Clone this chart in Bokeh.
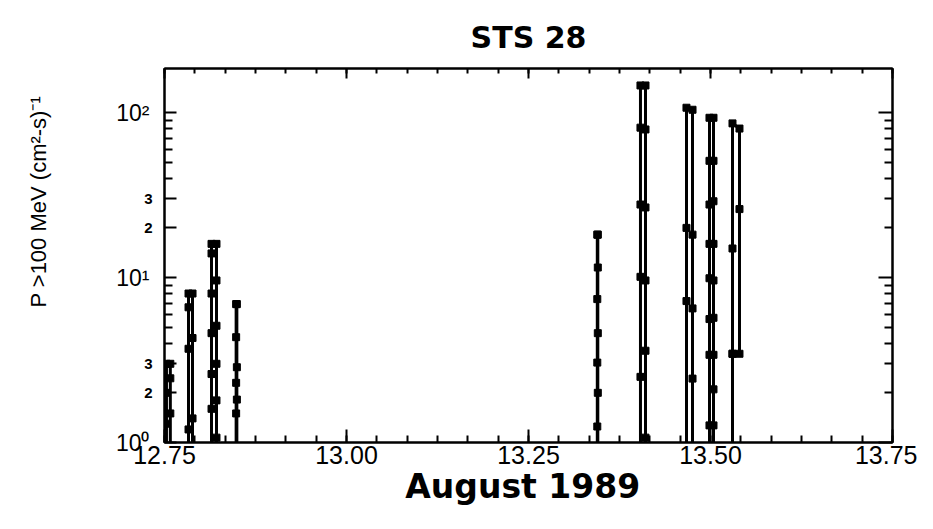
import numpy as np
from bokeh.plotting import figure
from bokeh.models import (Range1d, FixedTicker, LinearAxis, LogAxis,
                          PrintfTickFormatter, CustomJSTickFormatter)
from bokeh.embed import file_html
from bokeh.resources import INLINE

# ---- data: each SAA pass is a rise along one track then a fall along the next
pass1_day = [12.7527, 12.7527, 12.7527, 12.7527, 12.7580, 12.7580, 12.7580, 12.7580]
pass1_flux = [0.8, 1.3, 2.0, 3.0, 3.0, 2.45, 1.5, 0.8]

pass2_day = [12.7830, 12.7830, 12.7830, 12.7830, 12.7830, 12.7885, 12.7885, 12.7885, 12.7885]
pass2_flux = [0.8, 1.2, 3.7, 6.6, 8.0, 8.0, 4.3, 1.4, 0.8]

pass3_day = [12.8146, 12.8146, 12.8146, 12.8146, 12.8146, 12.8146, 12.8146,
             12.8214, 12.8214, 12.8214, 12.8214, 12.8214, 12.8214, 12.8214]
pass3_flux = [0.8, 1.6, 2.6, 4.6, 8.0, 14.0, 16.0, 16.0, 9.6, 5.1, 3.0, 1.8, 1.07, 0.8]

pass4_day = [12.8484, 12.8484, 12.8484, 12.8484, 12.8484, 12.8494, 12.8494, 12.8494, 12.8494]
pass4_flux = [0.8, 1.5, 2.3, 4.35, 6.9, 6.9, 2.86, 1.82, 0.8]

pass5_day = [13.3445, 13.3445, 13.3445, 13.3445, 13.3445, 13.3452, 13.3452, 13.3452, 13.3452, 13.3452]
pass5_flux = [0.8, 1.25, 3.05, 7.4, 18.2, 18.2, 11.5, 4.6, 2.0, 0.8]

pass6_day = [13.4038, 13.4038, 13.4038, 13.4038, 13.4038, 13.4038,
             13.4107, 13.4107, 13.4107, 13.4107, 13.4107, 13.4107, 13.4107]
pass6_flux = [0.8, 2.5, 10.1, 27.7, 81.0, 146.0, 146.0, 79.0, 26.6, 9.6, 3.6, 1.07, 0.8]

pass7_day = [13.4670, 13.4670, 13.4670, 13.4670, 13.4753, 13.4753, 13.4753, 13.4753, 13.4753]
pass7_flux = [0.8, 7.2, 20.0, 107.0, 104.0, 18.2, 6.5, 2.44, 0.8]

pass8_day = [13.4986, 13.4986, 13.4986, 13.4986, 13.4986, 13.4986, 13.4986, 13.4986, 13.4986,
             13.5041, 13.5041, 13.5041, 13.5041, 13.5041, 13.5041, 13.5041, 13.5041, 13.5041, 13.5041]
pass8_flux = [0.8, 1.27, 3.4, 5.6, 9.9, 16.0, 27.7, 51.0, 93.0,
              93.0, 51.0, 29.0, 16.0, 9.6, 5.7, 3.4, 2.1, 1.27, 0.8]

pass9_day = [13.5302, 13.5302, 13.5302, 13.5398, 13.5398, 13.5398, 13.5302, 13.5302]
pass9_flux = [3.45, 15.0, 86.0, 80.0, 26.0, 3.45, 3.45, 0.8]

x_major = [12.75, 13.00, 13.25, 13.50, 13.75]
y_major = [1, 10, 100]
y_major_labels = {1: "10\u2070", 10: "10\u00b9", 100: "10\u00b2"}
y_tick_marks = [1, 2, 3, 10, 20, 30, 100]
y_tick_labels = {1: "", 2: "2", 3: "3", 10: "", 20: "2", 30: "3", 100: ""}
y_minor = [4, 5, 6, 7, 8, 9, 40, 50, 60, 70, 80, 90, 200]
y_minor_right = [2, 3, 4, 5, 6, 7, 8, 9, 20, 30, 40, 50, 60, 70, 80, 90, 200]

title_text = "STS 28"
x_title = "August  1989"
y_title = "P >100 MeV  (cm\u00b2-s)\u207b\u00b9"
# em-space lead-in lifts the centred y title to where the original sits
y_title_lead = "\u2003\u2003\u2003\u2003\u2003\u2006"

days = [pass1_day, pass2_day, pass3_day, pass4_day, pass5_day,
        pass6_day, pass7_day, pass8_day, pass9_day]
fluxes = [pass1_flux, pass2_flux, pass3_flux, pass4_flux, pass5_flux,
          pass6_flux, pass7_flux, pass8_flux, pass9_flux]

# ---- figure
p = figure(width=917, height=513,
           x_range=Range1d(12.75, 13.75), y_range=Range1d(1, 185),
           y_axis_type="log", output_backend="svg", toolbar_location=None,
           min_border_left=164, min_border_right=25,
           min_border_top=68, min_border_bottom=71,
           background_fill_color="white", border_fill_color="white")
p.grid.visible = False
p.outline_line_color = "black"
p.outline_line_width = 2

p.title.text = title_text
p.title.align = "center"
p.title.text_font = "DejaVu Sans"
p.title.text_font_style = "bold"
p.title.text_font_size = "30px"
p.title.text_color = "black"
p.title.standoff = 27

x_minor = list(np.arange(12.75, 13.75 + 1e-9, 1.0 / 24.0))
x_ticker = FixedTicker(ticks=x_major, minor_ticks=x_minor)


def style_axis(ax, major_len, minor_len):
    ax.axis_line_color = "black"
    ax.axis_line_width = 2
    ax.major_tick_line_color = "black"
    ax.major_tick_line_width = 2
    ax.minor_tick_line_color = "black"
    ax.minor_tick_line_width = 2
    ax.major_tick_in = major_len
    ax.major_tick_out = 0
    ax.minor_tick_in = minor_len
    ax.minor_tick_out = 0


xb = p.xaxis[0]
xb.ticker = x_ticker
style_axis(xb, 13, 7)
xb.formatter = PrintfTickFormatter(format="%.2f")
xb.major_label_text_font = "Liberation Sans"
xb.major_label_text_font_size = "25px"
xb.major_label_text_color = "black"
xb.major_label_standoff = 3
xb.axis_label = x_title
xb.axis_label_text_font = "DejaVu Sans"
xb.axis_label_text_font_style = "bold"
xb.axis_label_text_font_size = "33px"
xb.axis_label_text_color = "black"
xb.axis_label_standoff = 0

# inner left axis: all tick marks plus the small "2" / "3" labels
ys = LogAxis(ticker=FixedTicker(ticks=y_tick_marks, minor_ticks=y_minor),
             major_label_overrides=y_tick_labels,
             major_label_standoff=12,
             major_label_text_font="Liberation Sans",
             major_label_text_font_style="bold",
             major_label_text_font_size="15px",
             major_label_text_color="black")
style_axis(ys, 12, 8)

# outer left axis: the decade labels (pulled back to the same column) and y title
yl = p.yaxis[0]
yl.ticker = FixedTicker(ticks=y_major, minor_ticks=[])
yl.axis_line_color = None
yl.major_tick_line_color = None
yl.minor_tick_line_color = None
yl.major_tick_in = 0
yl.major_tick_out = 0
yl.minor_tick_in = 0
yl.minor_tick_out = 0
yl.major_label_overrides = y_major_labels
yl.major_label_text_font = "Liberation Sans"
yl.major_label_text_font_size = "23px"
yl.major_label_text_color = "black"
yl.major_label_standoff = -8
yl.axis_label = y_title_lead + y_title
yl.axis_label_text_font = "Liberation Sans"
yl.axis_label_text_font_style = "normal"
yl.axis_label_text_font_size = "22px"
yl.axis_label_text_color = "black"
yl.axis_label_standoff = 62

p.left = [ys, yl]

blank = CustomJSTickFormatter(code="return '';")
xt = LinearAxis(ticker=x_ticker, formatter=blank, major_label_standoff=0)
style_axis(xt, 10, 5)
p.add_layout(xt, "above")

yr = LogAxis(ticker=FixedTicker(ticks=y_major, minor_ticks=y_minor_right),
             formatter=blank, major_label_standoff=0)
style_axis(yr, 14, 8)
p.add_layout(yr, "right")

# ---- data marks
p.multi_line(xs=days, ys=fluxes, line_color="black", line_width=3)
mx = [d for dd, ff in zip(days, fluxes) for d, f in zip(dd, ff) if f >= 1]
my = [f for ff in fluxes for f in ff if f >= 1]
p.scatter(mx, my, marker="square", size=7, color="black")

open("out.html", "w").write(file_html(p, INLINE))
